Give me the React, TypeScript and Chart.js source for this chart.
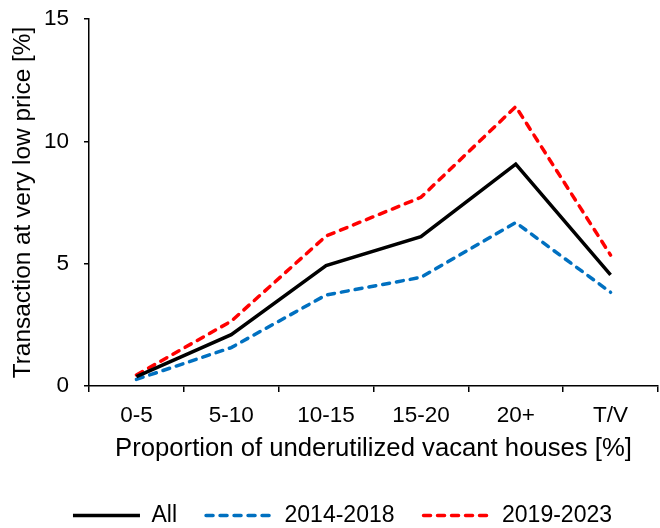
import React, { useEffect, useRef } from "react";
import { Chart, registerables } from "chart.js";

Chart.register(...registerables);

const categories = ["0-5", "5-10", "10-15", "15-20", "20+", "T/V"];
const allValues = [0.38, 2.1, 4.92, 6.1, 9.07, 4.54];
const values2014_2018 = [0.27, 1.57, 3.72, 4.44, 6.68, 3.83];
const values2019_2023 = [0.45, 2.65, 6.13, 7.71, 11.42, 5.35];
const yTicks = [0, 5, 10, 15];

const FONT = "'Liberation Sans', Arial, sans-serif";

export default function App() {
  const ref = useRef<HTMLCanvasElement | null>(null);

  useEffect(() => {
    if (!ref.current) return;
    Chart.defaults.color = "#000";
    Chart.defaults.font.family = FONT;
    const defaultLabels = Chart.defaults.plugins.legend.labels.generateLabels;
    const chart = new Chart(ref.current, {
      type: "line",
      data: {
        labels: categories,
        datasets: [
          {
            label: "All",
            data: allValues,
            borderColor: "#000000",
            backgroundColor: "#000000",
            borderWidth: 3.5,
            pointRadius: 0,
            tension: 0,
          },
          {
            label: "2014-2018",
            data: values2014_2018,
            borderColor: "#0070C0",
            backgroundColor: "#0070C0",
            borderWidth: 3.5,
            borderDash: [7, 7],
            borderCapStyle: "round",
            pointRadius: 0,
            tension: 0,
          },
          {
            label: "2019-2023",
            data: values2019_2023,
            borderColor: "#FF0000",
            backgroundColor: "#FF0000",
            borderWidth: 3.5,
            borderDash: [7, 7],
            borderCapStyle: "round",
            pointRadius: 0,
            tension: 0,
          },
        ],
      },
      options: {
        animation: false,
        responsive: false,
        maintainAspectRatio: false,
        layout: { padding: { left: 27, right: 2, top: 19, bottom: 0 } },
        plugins: {
          tooltip: { enabled: false },
          legend: {
            position: "bottom",
            labels: {
              usePointStyle: true,
              pointStyle: "line",
              pointStyleWidth: 67,
              padding: 29,
              color: "#000",
              font: { size: 23, family: FONT },
              generateLabels: (c: any) =>
                defaultLabels(c).map((item: any, i: number) => {
                  const ds: any = c.data.datasets[i];
                  return {
                    ...item,
                    lineDash: ds.borderDash || [],
                    lineCap: ds.borderCapStyle || "butt",
                    lineWidth: ds.borderWidth,
                    strokeStyle: ds.borderColor,
                  };
                }),
            },
          },
        },
        scales: {
          x: {
            offset: true,
            afterFit: (axis: any) => {
              axis.height = 89;
            },
            grid: {
              offset: true,
              drawOnChartArea: false,
              drawTicks: true,
              tickLength: 6,
              tickColor: "#000",
              lineWidth: 1.5,
            },
            border: { display: true, color: "#000", width: 1.5 },
            ticks: {
              color: "#000",
              padding: 10,
              font: { size: 22.5, family: FONT },
              maxRotation: 0,
            },
            title: {
              display: true,
              text: "Proportion of underutilized vacant houses [%]",
              color: "#000",
              font: { size: 25.7, family: FONT },
              padding: { top: 0, bottom: 11 },
            },
          },
          y: {
            min: 0,
            max: 15,
            afterBuildTicks: (axis: any) => {
              axis.ticks = yTicks.map((v) => ({ value: v }));
            },
            afterFit: (axis: any) => {
              axis.width = 62;
              axis.paddingTop = 13.5;
              axis.paddingBottom = 13.5;
            },
            grid: {
              drawOnChartArea: false,
              drawTicks: true,
              tickLength: 5,
              tickColor: "#000",
              lineWidth: 1.5,
            },
            border: { display: true, color: "#000", width: 1.5 },
            ticks: {
              color: "#000",
              padding: 15,
              font: { size: 22.5, family: FONT },
            },
            title: {
              display: true,
              text: "Transaction at very low price [%]",
              color: "#000",
              font: { size: 24.4, family: FONT },
              padding: { top: -18.5, bottom: 0 },
            },
          },
        },
      },
    });
    return () => chart.destroy();
  }, []);

  return (
    <div
      style={{
        position: "fixed",
        left: 0,
        top: 0,
        width: 660,
        height: 528,
        overflow: "hidden",
        background: "#fff",
      }}
    >
      <canvas ref={ref} width={660} height={537} style={{ display: "block" }} />
    </div>
  );
}
